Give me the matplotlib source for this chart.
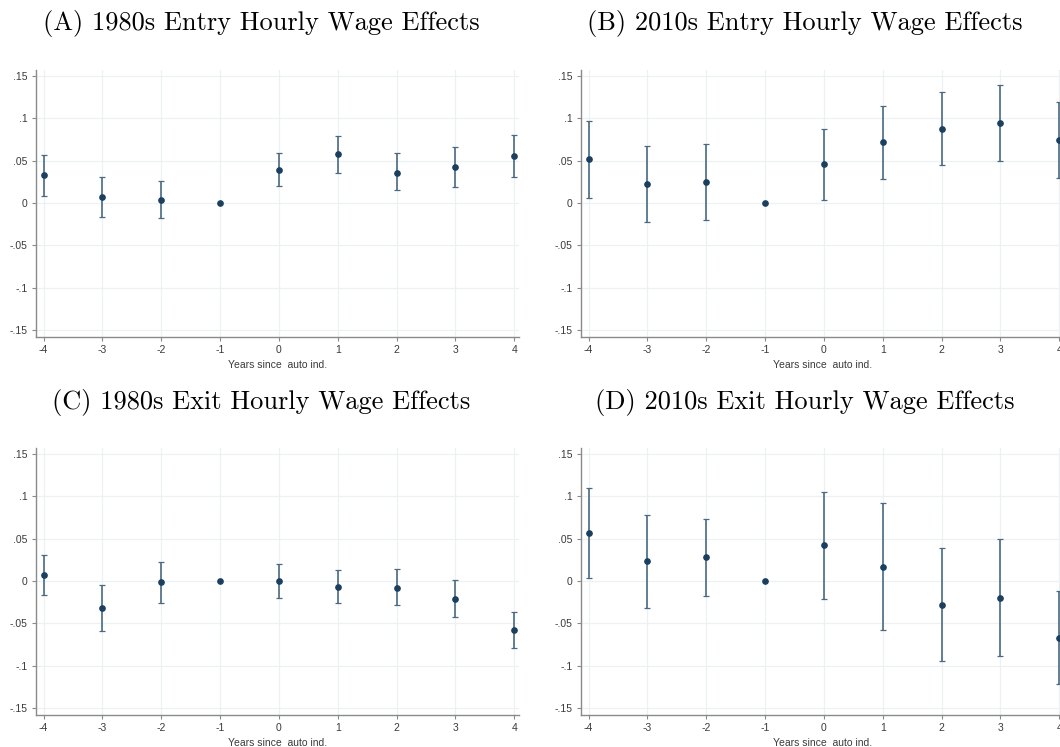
import numpy as np
import matplotlib
matplotlib.use('Agg')
import matplotlib.pyplot as plt

# event time
years = [-4, -3, -2, -1, 0, 1, 2, 3, 4]

# (A) 1980s entry
a_est = [0.0327, 0.0067, 0.0035, 0.0, 0.039, 0.0579, 0.036, 0.043, 0.0555]
a_hi = [0.0563, 0.0307, 0.0256, np.nan, 0.0587, 0.079, 0.0587, 0.0665, 0.0807]
a_lo = [0.009, -0.0165, -0.018, np.nan, 0.0197, 0.036, 0.0154, 0.0193, 0.0307]

# (B) 2010s entry
b_est = [0.0516, 0.0228, 0.0244, 0.0, 0.0457, 0.0717, 0.0874, 0.0945, 0.0744]
b_hi = [0.097, 0.0677, 0.070, np.nan, 0.0874, 0.1146, 0.131, 0.140, 0.119]
b_lo = [0.0059, -0.022, -0.0205, np.nan, 0.0039, 0.0287, 0.0453, 0.0496, 0.0299]

# (C) 1980s exit
c_est = [0.0067, -0.0323, -0.0016, 0.0, 0.0, -0.0071, -0.0083, -0.0209, -0.0579]
c_hi = [0.0307, -0.0047, 0.022, np.nan, 0.0197, 0.013, 0.0138, 0.0008, -0.0362]
c_lo = [-0.0165, -0.0594, -0.0256, np.nan, -0.0197, -0.0264, -0.0287, -0.0429, -0.0795]

# (D) 2010s exit
d_est = [0.0571, 0.0232, 0.0283, 0.0, 0.0421, 0.0169, -0.028, -0.0201, -0.0669]
d_hi = [0.1098, 0.0776, 0.0736, np.nan, 0.1047, 0.0921, 0.0394, 0.0492, -0.0118]
d_lo = [0.0039, -0.0319, -0.0177, np.nan, -0.0209, -0.0575, -0.0945, -0.0886, -0.122]

titles = ["(A) 1980s Entry Hourly Wage Effects", "(B) 2010s Entry Hourly Wage Effects",
          "(C) 1980s Exit Hourly Wage Effects", "(D) 2010s Exit Hourly Wage Effects"]
yticks = [-0.15, -0.1, -0.05, 0, 0.05, 0.1, 0.15]
ytick_labels = ["-.15", "-.1", "-.05", "0", ".05", ".1", ".15"]

W, H = 1060, 747
fig = plt.figure(figsize=(W / 100, H / 100), dpi=100)

navy = '#1a3f5f'
barc = '#4a6a82'
axc = '#8a8a8a'
txtc = '#3a3a3a'

def px_axes(left, top, right, bottom):
    return fig.add_axes([left / W, 1 - bottom / H, (right - left) / W, (bottom - top) / H])

# right-hand panels run past the page edge, as in the source image
panels = [
    (a_est, a_lo, a_hi, (36.0, 70.2, 519.0, 336.9), (261, 23.5)),
    (b_est, b_lo, b_hi, (581.0, 70.2, 1064.0, 336.9), (805, 23.5)),
    (c_est, c_lo, c_hi, (36.0, 448.0, 519.0, 714.7), (261, 402)),
    (d_est, d_lo, d_hi, (581.0, 448.0, 1064.0, 714.7), (805, 402)),
]

for i, (est, lo, hi, box, tpos) in enumerate(panels):
    ax = px_axes(*box)
    est = np.array(est)
    lo = np.array(lo)
    hi = np.array(hi)
    ok = ~np.isnan(lo)
    x = np.array(years)
    ax.errorbar(x[ok], est[ok], yerr=[est[ok] - lo[ok], hi[ok] - est[ok]], fmt='none',
                ecolor=barc, elinewidth=1.2, capsize=2.0, capthick=0.9, zorder=2)
    ax.plot(x, est, 'o', color=navy, markersize=3.8, zorder=3)

    ax.set_xlim(-4.13, 4.08)
    ax.set_ylim(-0.158, 0.157)
    ax.set_xticks(years)
    ax.set_xticklabels([str(v) for v in years])
    ax.set_yticks(yticks)
    ax.set_yticklabels(ytick_labels)
    ax.grid(True, color='#eef1f4', linewidth=0.9)
    ax.set_axisbelow(True)
    for s in ['top', 'right']:
        ax.spines[s].set_visible(False)
    for s in ['left', 'bottom']:
        ax.spines[s].set_color(axc)
        ax.spines[s].set_linewidth(1.0)
    ax.tick_params(axis='both', direction='out', length=3, width=0.8, color=axc,
                   labelsize=7.5, labelcolor=txtc, pad=3)
    for lab in ax.get_xticklabels() + ax.get_yticklabels():
        lab.set_family('Liberation Sans')
    ax.set_xlabel("Years since  auto ind.", fontsize=7.5, color=txtc,
                  family='Liberation Sans', labelpad=3.5)

    fig.text(tpos[0] / W, 1 - tpos[1] / H, titles[i], ha='center', va='center',
             family='cmr10', fontsize=19, color='black')

fig.savefig('out.png', dpi=100)
